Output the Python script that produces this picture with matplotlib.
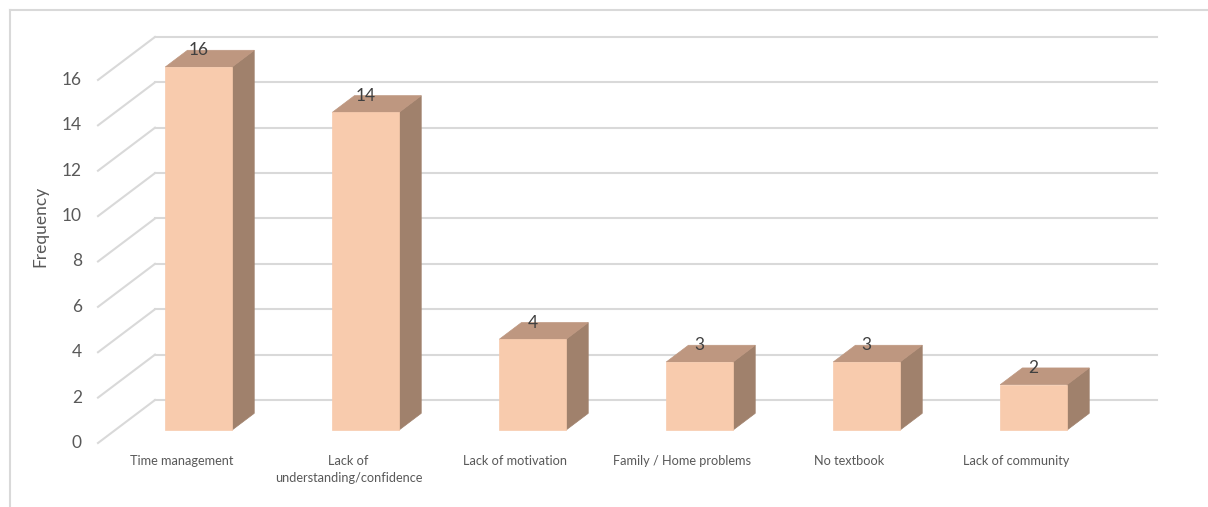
import matplotlib
matplotlib.use("Agg")
import matplotlib.pyplot as plt
from matplotlib.patches import Polygon
import numpy as np

categories = ["Time management", "Lack of\nunderstanding/confidence", "Lack of motivation",
              "Family / Home problems", "No textbook", "Lack of community"]
values = [16, 14, 4, 3, 3, 2]
yticks = [0, 2, 4, 6, 8, 10, 12, 14, 16]
ylabel = "Frequency"

FRONT = "#F8CBAD"
SIDE = "#A0816C"
TOP = "#BE9780"
GRID = "#D9D9D9"
TXT = "#595959"
VAL = "#404040"
FONT = "Lato"

W, H = 1208, 507
fig = plt.figure(figsize=(W / 100, H / 100), dpi=100)
ax = fig.add_axes([0, 0, 1, 1])
ax.set_axis_off()

# pixel mapping of the front plane: x category unit = 167 px, value unit = 22.69 px
px_cat = 167.0
px_val = 22.69
x0_px = 181.5   # category 0 center on front plane
y0_px = 443.0   # value 0 on front plane
ax.set_xlim(-x0_px / px_cat, (W - x0_px) / px_cat)
ax.set_ylim((y0_px - H) / px_val, y0_px / px_val)

# depth offset (full depth) in data units
DX = 57.0 / px_cat
DY = 43.0 / px_val

def P(x, y, d):
    return (x + DX * d, y + DY * d)

n = len(categories)
xl, xr = -0.5, n - 0.5

# border
ax.plot([-(x0_px - 10) / px_cat, (W - x0_px) / px_cat], [(y0_px - 10) / px_val] * 2,
        color=GRID, lw=1.5, zorder=0, clip_on=False)
ax.plot([-(x0_px - 10) / px_cat] * 2, [(y0_px - 10) / px_val, (y0_px - H) / px_val],
        color=GRID, lw=1.5, zorder=0, clip_on=False)

# gridlines: back wall + left wall diagonals
for v in yticks:
    a = P(xl, v, 1); b = P(xr, v, 1); c = P(xl, v, 0)
    ax.plot([a[0], b[0]], [a[1], b[1]], color=GRID, lw=1.5, zorder=1)
    ax.plot([c[0], a[0]], [c[1], a[1]], color=GRID, lw=1.5, zorder=1)
    ax.text(xl - 16 / px_cat, v, str(v), ha="right", va="center", fontsize=12.5,
            color=TXT, family=FONT)

# bars
bw = 0.2
d0, d1 = 0.30, 0.69
for i, v in enumerate(values):
    L, R = i - bw, i + bw
    front = [P(L, 0, d0), P(R, 0, d0), P(R, v, d0), P(L, v, d0)]
    side = [P(R, 0, d0), P(R, 0, d1), P(R, v, d1), P(R, v, d0)]
    top = [P(L, v, d0), P(R, v, d0), P(R, v, d1), P(L, v, d1)]
    ax.add_patch(Polygon(side, closed=True, facecolor=SIDE, edgecolor=SIDE, lw=0.5, zorder=3))
    ax.add_patch(Polygon(top, closed=True, facecolor=TOP, edgecolor=TOP, lw=0.5, zorder=3))
    ax.add_patch(Polygon(front, closed=True, facecolor=FRONT, edgecolor=FRONT, lw=0.5, zorder=4))
    lx = P(i, v, d0)[0]
    ly = P(i, v, d1)[1]
    ax.text(lx, ly, str(v), ha="center", va="center", fontsize=12.5, color=VAL,
            family=FONT, zorder=5)

# category labels
for i, c in enumerate(categories):
    ax.text(i, (y0_px - 455) / px_val, c, ha="center", va="top", fontsize=9.2,
            color=TXT, family=FONT, linespacing=1.55)

# y axis title
ax.text(-(x0_px - 40) / px_cat, (y0_px - 226) / px_val, ylabel, rotation=90,
        ha="center", va="center", fontsize=12.5, color=TXT, family=FONT)

fig.savefig("out.png", dpi=100, facecolor="white")
